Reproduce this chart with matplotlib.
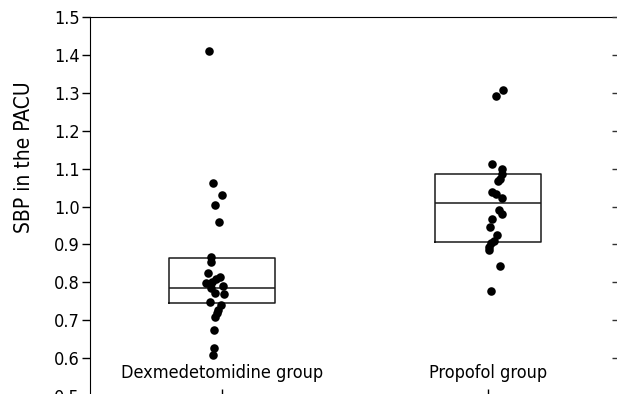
import numpy as np
import matplotlib
matplotlib.use('Agg')
import matplotlib.pyplot as plt

plt.rcParams['font.family'] = ['DejaVu Sans']
plt.rcParams['font.stretch'] = 'condensed'

# 数据
groups = ['Dexmedetomidine group', 'Propofol group']
dex_vals = [1.410, 1.062, 1.030, 1.004, 0.959, 0.868, 0.853, 0.825, 0.814, 0.808,
            0.800, 0.797, 0.790, 0.785, 0.772, 0.768, 0.747, 0.740, 0.728, 0.718,
            0.708, 0.673, 0.627, 0.607]
dex_jit = [-13, -9, 0, -7, -3, -11, -11, -14, -2, -6,
           -10, -16, 1, -11, -7, 2, -12, -1, -4, -5,
           -7, -8, -8, -9]
pro_vals = [1.307, 1.291, 1.112, 1.100, 1.087, 1.073, 1.066, 1.038, 1.033, 1.023,
            0.990, 0.979, 0.967, 0.946, 0.926, 0.910, 0.903, 0.893, 0.885, 0.844,
            0.777]
pro_jit = [15, 8, 4, 14, 14, 12, 10, 4, 8, 14,
           11, 14, 4, 2, 9, 6, 3, 1, 1, 12,
           3]
box_q1 = [0.745, 0.907]
box_med = [0.785, 1.010]
box_q3 = [0.864, 1.087]
yticks = [0.5, 0.6, 0.7, 0.8, 0.9, 1.0, 1.1, 1.2, 1.3, 1.4, 1.5]

fig = plt.figure(figsize=(6.17, 3.94), dpi=100)
ax = fig.add_axes([90 / 617, -2 / 394, 529 / 617, 379 / 394])

# 箱体（无须线）
stats = []
for i in range(2):
    stats.append({'med': box_med[i], 'q1': box_q1[i], 'q3': box_q3[i],
                  'whislo': box_q1[i], 'whishi': box_q3[i], 'fliers': []})
ax.bxp(stats, positions=[1, 2], widths=0.4, showcaps=False, showfliers=False,
       boxprops=dict(color='#1a1a1a', linewidth=1.1),
       medianprops=dict(color='#1a1a1a', linewidth=1.1),
       whiskerprops=dict(linewidth=0))

# 散点
ax.scatter(1 + np.array(dex_jit) / 266, dex_vals, s=38, color='black', zorder=3, linewidths=0)
ax.scatter(2 + np.array(pro_jit) / 266, pro_vals, s=38, color='black', zorder=3, linewidths=0)

ax.set_xlim(1 - 132 / 266, 2 + 131 / 266)
ax.set_ylim(0.5, 1.5)
ax.set_yticks(yticks)
ax.set_yticklabels(['%.1f' % v for v in yticks])
ax.tick_params(axis='y', direction='out', length=6, width=1, pad=1.5, labelsize=13)
ax.set_xticks([1, 2])
ax.set_xticklabels(groups)
ax.tick_params(axis='x', direction='in', length=5, width=1, pad=-23, labelsize=13)
ax.spines['right'].set_visible(False)
ax.set_ylabel('SBP in the PACU', fontsize=15)
ax.yaxis.set_label_coords(-0.105, 0.63)

# 右侧内向刻度
ax2 = ax.twinx()
ax2.set_ylim(0.5, 1.5)
ax2.set_yticks(yticks)
ax2.set_yticklabels([])
ax2.tick_params(axis='y', direction='in', length=5, width=1, color='#333333')
for s in ax2.spines.values():
    s.set_visible(False)

fig.savefig('out.png', dpi=100)
